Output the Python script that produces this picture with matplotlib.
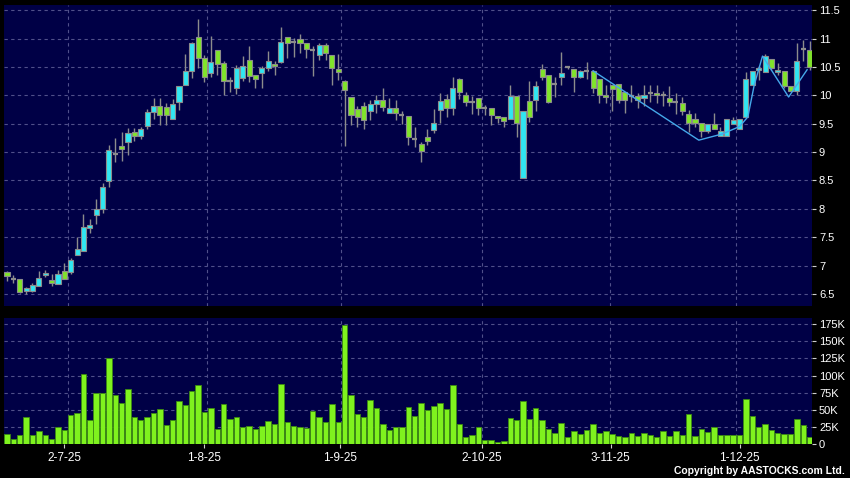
import matplotlib
matplotlib.use("Agg")
import matplotlib.pyplot as plt
from matplotlib.ticker import FuncFormatter, MultipleLocator
import numpy as np

plt.rcParams['font.family'] = ['Liberation Sans', 'DejaVu Sans']

# ---------------- data ----------------
opens = [6.88, 6.77, 6.76, 6.56, 6.56, 6.65, 6.83, 6.75, 6.67, 6.90,
         6.88, 7.19, 7.26, 7.67, 7.90, 7.99, 8.49, 8.97, 9.10, 9.18,
         9.36, 9.29, 9.46, 9.70, 9.81, 9.80, 9.58, 9.88, 10.18, 10.43,
         11.03, 10.65, 10.39, 10.79, 10.56, 10.26, 10.12, 10.30, 10.63, 10.35,
         10.40, 10.48, 10.55, 10.59, 11.02, 10.93, 11.00, 10.92, 10.79, 10.71,
         10.88, 10.71, 10.46, 10.25, 9.97, 9.75, 9.81, 9.72, 9.84, 9.91,
         9.69, 9.77, 9.65, 9.64, 9.23, 9.15, 9.26, 9.39, 9.74, 9.93,
         9.78, 10.29, 10.00, 9.88, 9.95, 9.78, 9.77, 9.64, 9.62, 9.59,
         9.99, 8.55, 9.90, 9.91, 10.46, 10.35, 10.20, 10.32, 10.49, 10.47,
         10.32, 10.42, 10.42, 10.29, 10.00, 10.18, 10.20, 10.05, 9.98, 9.98,
         9.95, 10.04, 10.04, 10.01, 9.95, 9.89, 9.87, 9.67, 9.58, 9.51,
         9.37, 9.49, 9.29, 9.28, 9.50, 9.40, 9.62, 10.19, 10.44, 10.41,
         10.64, 10.41, 10.43, 10.17, 10.08, 10.82, 10.79]
highs = [6.91, 6.83, 6.76, 6.62, 6.70, 6.91, 6.93, 6.85, 6.93, 7.04,
         7.14, 7.51, 7.91, 7.83, 8.17, 8.45, 9.13, 9.25, 9.36, 9.42,
         9.42, 9.45, 9.76, 9.95, 9.95, 9.86, 9.93, 10.16, 10.73, 10.93,
         11.35, 10.71, 11.05, 10.79, 10.61, 10.33, 10.53, 10.69, 10.86, 10.35,
         10.52, 10.78, 10.61, 11.20, 11.02, 11.01, 11.08, 10.92, 10.86, 10.92,
         10.92, 10.71, 10.72, 10.27, 9.97, 9.81, 9.89, 9.92, 10.01, 10.12,
         9.95, 9.92, 9.72, 9.64, 9.44, 9.18, 9.41, 9.75, 10.04, 10.02,
         10.32, 10.31, 10.05, 9.99, 9.95, 9.83, 9.77, 9.64, 9.62, 10.19,
         9.99, 9.73, 10.26, 10.26, 10.55, 10.35, 10.33, 10.77, 10.51, 10.47,
         10.44, 10.59, 10.44, 10.29, 10.19, 10.18, 10.20, 10.05, 10.19, 10.04,
         10.19, 10.19, 10.19, 10.07, 10.16, 10.04, 9.97, 9.74, 9.68, 9.51,
         9.49, 9.68, 9.44, 9.58, 9.62, 9.58, 10.41, 10.42, 10.52, 10.72,
         10.64, 10.57, 10.43, 10.17, 10.92, 10.97, 10.96]
lows = [6.73, 6.70, 6.52, 6.51, 6.54, 6.65, 6.80, 6.65, 6.67, 6.76,
        6.85, 7.19, 7.26, 7.58, 7.73, 7.92, 8.38, 8.82, 8.85, 8.95,
        9.20, 9.23, 9.40, 9.59, 9.48, 9.48, 9.58, 9.74, 10.18, 10.30,
        10.48, 10.24, 10.32, 10.36, 10.01, 10.05, 10.03, 10.25, 10.23, 10.13,
        10.12, 10.42, 10.36, 10.56, 10.65, 10.67, 10.74, 10.65, 10.34, 10.62,
        10.62, 10.18, 10.27, 9.11, 9.48, 9.45, 9.41, 9.57, 9.68, 9.72,
        9.69, 9.57, 9.49, 9.13, 9.09, 8.83, 9.12, 9.34, 9.51, 9.61,
        9.65, 9.94, 9.81, 9.67, 9.65, 9.65, 9.48, 9.51, 9.45, 9.59,
        9.27, 8.55, 9.53, 9.73, 10.27, 9.86, 9.97, 10.19, 10.47, 10.05,
        10.30, 10.28, 10.04, 9.86, 9.86, 9.73, 9.86, 9.68, 9.89, 9.77,
        9.81, 9.88, 9.86, 9.82, 9.82, 9.67, 9.65, 9.35, 9.44, 9.27,
        9.34, 9.41, 9.29, 9.28, 9.50, 9.40, 9.62, 10.19, 10.27, 10.41,
        10.44, 10.35, 10.12, 10.08, 10.00, 10.61, 10.44]
closes = [6.82, 6.77, 6.54, 6.60, 6.66, 6.78, 6.87, 6.70, 6.85, 6.77,
          7.10, 7.29, 7.68, 7.72, 8.00, 8.39, 9.03, 8.97, 9.05, 9.33,
          9.29, 9.40, 9.71, 9.82, 9.66, 9.66, 9.84, 10.16, 10.43, 10.92,
          10.65, 10.32, 10.58, 10.55, 10.26, 10.26, 10.48, 10.51, 10.34, 10.28,
          10.48, 10.60, 10.51, 10.93, 10.92, 10.93, 10.92, 10.81, 10.79, 10.88,
          10.74, 10.48, 10.41, 10.09, 9.65, 9.62, 9.56, 9.84, 9.91, 9.80,
          9.77, 9.68, 9.65, 9.26, 9.23, 9.02, 9.20, 9.51, 9.90, 9.78,
          10.12, 10.05, 9.89, 9.88, 9.78, 9.78, 9.65, 9.60, 9.55, 9.99,
          9.51, 9.73, 9.61, 10.17, 10.33, 9.89, 10.20, 10.39, 10.49, 10.32,
          10.42, 10.42, 10.12, 10.01, 9.97, 10.11, 9.91, 9.91, 9.98, 9.91,
          10.00, 10.04, 10.00, 10.01, 9.89, 9.89, 9.72, 9.52, 9.52, 9.37,
          9.49, 9.41, 9.38, 9.58, 9.57, 9.58, 10.29, 10.42, 10.48, 10.69,
          10.48, 10.45, 10.16, 10.08, 10.61, 10.82, 10.50]
volume_k = [14.7, 6.8, 13.7, 40, 13.7, 19.6, 13.7, 7.8, 25, 21,
            42.5, 45.5, 102, 34.7, 75, 75, 126, 71, 60.6, 80,
            40, 35.7, 39.6, 46, 50.4, 28.4, 35.2, 62.6, 57.2, 78,
            85.6, 47, 52.8, 22.5, 57.7, 36.2, 40, 25.4, 26.9, 22.5,
            26.9, 33.7, 29.8, 88, 32.8, 26.9, 25, 23.5, 48.4, 40,
            32.3, 58.7, 31.8, 173.6, 71, 43.5, 39.6, 64, 52.3, 29.3,
            20.5, 25, 25, 54.3, 41, 59.7, 49.4, 55.3, 59.7, 51.3,
            85.6, 29.8, 10.8, 13.2, 25, 6.4, 5.9, 2.4, 4.4, 37.7,
            35.7, 62.6, 36.7, 52.3, 35.2, 22.5, 16.6, 30.8, 10.8, 18.6,
            15.2, 21, 28.9, 16.1, 19.1, 15.2, 11.7, 10.8, 16.6, 11.2,
            16.6, 13.2, 10.8, 18.6, 11.2, 19.1, 13.2, 43.5, 11.7, 21.5,
            17.6, 25.4, 13.7, 12.7, 12.7, 13.2, 65, 41, 24.5, 29.3,
            21, 15.6, 14.7, 14.7, 37.2, 27.4, 10.3]

date_labels = ["2-7-25", "1-8-25", "1-9-25", "2-10-25", "3-11-25", "1-12-25"]
date_label_pos = [9.0, 31.0, 52.3, 74.6, 94.8, 115.0]
month_grid_pos = [9.5, 31.4, 52.5, 74.5, 94.6, 114.5]

trend_x = [92, 108.6, 112.3, 115, 116.3, 117.3, 118.6, 122.7, 125.6]
trend_y = [10.43, 9.21, 9.32, 9.45, 9.62, 10.18, 10.69, 9.97, 10.45]

price_ticks = [6.5, 7, 7.5, 8, 8.5, 9, 9.5, 10, 10.5, 11, 11.5]
vol_ticks_k = [0, 25, 50, 75, 100, 125, 150, 175]

# ---------------- styling ----------------
BG = '#000046'
GRID = '#50508a'
CYAN = '#30e6f2'
GREEN = '#80e42a'
EDGE = '#8c8c8c'
VOLG = '#7ff21e'

o = np.array(opens); h = np.array(highs); l = np.array(lows); c = np.array(closes)
v = np.array(volume_k) * 1000
x = np.arange(len(o))

fig = plt.figure(figsize=(8.5, 4.78), dpi=100, facecolor='black')
ax1 = fig.add_axes([4/850, 1-306/478, 808/850, 301/478])
ax2 = fig.add_axes([4/850, 1-444/478, 808/850, 126/478])

for ax in (ax1, ax2):
    ax.set_facecolor(BG)
    for s in ax.spines.values():
        s.set_visible(False)
    ax.set_xlim(-0.47, 126.37)
    for gx in month_grid_pos:
        ax.axvline(gx, color=GRID, lw=0.8, ls=(0, (3, 3)), zorder=0)
    ax.yaxis.tick_right()
    ax.tick_params(axis='y', colors='#cfcfcf', labelcolor='white', length=3,
                   width=0.8, labelsize=8, pad=2)
    ax.grid(axis='y', color=GRID, lw=0.8, ls=(0, (3, 3)), zorder=0)
    ax.set_axisbelow(True)

# price panel
ax1.set_ylim(6.29, 11.59)
ax1.set_yticks(price_ticks)
ax1.yaxis.set_major_formatter(FuncFormatter(lambda y, p: f"{y:g}"))
ax1.set_xticks([])

ax1.vlines(x, l, h, color=EDGE, lw=1.0, zorder=2)
up = c > o + 0.004
dn = c < o - 0.004
fl = ~(up | dn)
W = 0.8
ax1.bar(x[up], (c - o)[up], bottom=o[up], width=W, color=CYAN,
        edgecolor=EDGE, linewidth=0.8, zorder=3)
ax1.bar(x[dn], (c - o)[dn], bottom=o[dn], width=W, color=GREEN,
        edgecolor=EDGE, linewidth=0.8, zorder=3)
ax1.hlines(c[fl], x[fl] - W/2, x[fl] + W/2, color=EDGE, lw=1.6, zorder=3)

ax1.plot(trend_x, trend_y, color='#45a8ea', lw=1.0, zorder=4)

# volume panel
ax2.set_ylim(0, 184000)
ax2.set_yticks([k * 1000 for k in vol_ticks_k])
ax2.yaxis.set_major_formatter(FuncFormatter(lambda y, p: "0" if y == 0 else f"{int(round(y/1000))}K"))
ax2.bar(x, v, width=0.85, color=VOLG, edgecolor='#3c8a12', linewidth=0.6, zorder=3)
ax2.set_xticks(date_label_pos)
ax2.set_xticklabels(date_labels)
ax2.tick_params(axis='x', colors='#cfcfcf', labelcolor='white', length=3,
                width=0.8, labelsize=8.5, pad=3)

fig.text(845/850, 1-471/478, 'Copyright by AASTOCKS.com Ltd.', ha='right',
         va='center', color='white', fontsize=7.5, fontweight='bold')

fig.savefig('out.png', dpi=100, facecolor='black')
